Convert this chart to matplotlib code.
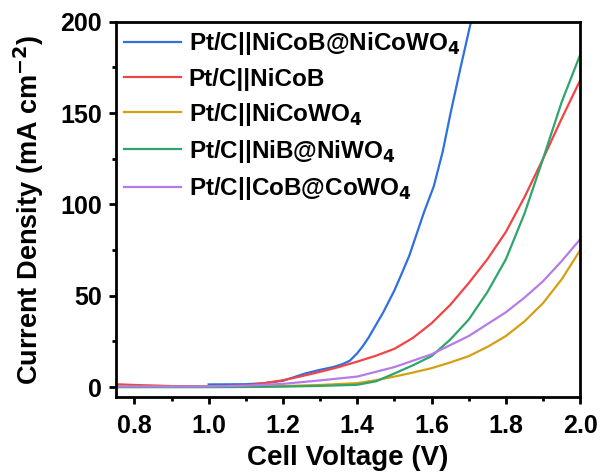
import matplotlib
matplotlib.use("Agg")
import matplotlib.pyplot as plt
from matplotlib.ticker import MultipleLocator

plt.rcParams['font.family'] = ['Liberation Sans', 'DejaVu Sans']
plt.rcParams['font.weight'] = 'bold'
plt.rcParams['mathtext.default'] = 'bf'

labels = ['Pt/C||NiCoB@NiCoWO$_4$', 'Pt/C||NiCoB', 'Pt/C||NiCoWO$_4$',
          'Pt/C||NiB@NiWO$_4$', 'Pt/C||CoB@CoWO$_4$']
colors = ['#2f6fe0', '#f24444', '#d4a012', '#2ea56c', '#b47ce6']

v_blue = [1.0, 1.1, 1.15, 1.2, 1.23, 1.26, 1.3, 1.335, 1.36, 1.38, 1.4, 1.415, 1.43, 1.45, 1.47, 1.5, 1.515, 1.54, 1.56, 1.58, 1.606, 1.63, 1.65, 1.678, 1.706]
j_blue = [1.5, 1.6, 2.2, 3.5, 5.5, 7.5, 9.5, 11, 12.6, 14.5, 18.6, 22.5, 27, 34, 41, 53, 60, 72, 84, 96, 110, 129, 149, 175, 200]

v_red = [0.75, 0.8, 0.9, 1.0, 1.1, 1.15, 1.2, 1.25, 1.3, 1.35, 1.4, 1.45, 1.5, 1.55, 1.6, 1.65, 1.7, 1.75, 1.8, 1.85, 1.9, 1.95, 2.0]
j_red = [1.6, 1.2, 0.6, 0.5, 0.9, 2.2, 3.8, 6.0, 8.4, 11.0, 14, 17.2, 21, 27, 35, 45, 57, 70, 85, 104, 125, 147, 168]

v_yel = [0.75, 0.9, 1.0, 1.1, 1.2, 1.3, 1.4, 1.45, 1.5, 1.55, 1.6, 1.65, 1.7, 1.75, 1.8, 1.85, 1.9, 1.95, 2.0]
j_yel = [0.3, 0.2, 0.2, 0.3, 0.6, 1.2, 2.2, 3.8, 5.8, 8.0, 10.4, 13.5, 17, 22, 28, 36, 46, 59, 75]

v_grn = [0.75, 0.9, 1.0, 1.1, 1.2, 1.3, 1.4, 1.45, 1.5, 1.55, 1.6, 1.65, 1.7, 1.75, 1.8, 1.85, 1.9, 1.95, 2.0]
j_grn = [0.0, 0.0, 0.0, 0.1, 0.3, 0.7, 1.3, 3.2, 7.5, 12, 17, 26, 37, 52, 70, 95, 125, 156, 182]

v_pur = [0.75, 0.9, 1.0, 1.1, 1.2, 1.3, 1.4, 1.5, 1.6, 1.7, 1.8, 1.85, 1.9, 1.95, 2.0]
j_pur = [0.4, 0.3, 0.4, 0.8, 1.8, 3.7, 5.8, 11, 18, 28, 41, 49, 58, 69, 81]

series = [(v_blue, j_blue), (v_red, j_red), (v_yel, j_yel), (v_grn, j_grn), (v_pur, j_pur)]

fig = plt.figure(figsize=(6.0, 4.74), dpi=100)
ax = fig.add_axes([0.193, 0.162, 0.774, 0.792])
for (x, y), c, lab in zip(series, colors, labels):
    ax.plot(x, y, color=c, lw=1.6, label=lab)

ax.set_xlim(0.75, 2.0)
ax.set_ylim(-5.5, 200)
ax.xaxis.set_major_locator(MultipleLocator(0.2))
ax.xaxis.set_minor_locator(MultipleLocator(0.1))
ax.yaxis.set_major_locator(MultipleLocator(50))
ax.yaxis.set_minor_locator(MultipleLocator(25))
ax.tick_params(which='major', direction='out', length=5, width=2, labelsize=18)
ax.tick_params(which='minor', direction='out', length=3, width=2)
ax.tick_params(axis='x', which='major', pad=7)
ax.tick_params(axis='y', which='major', pad=5)
for s in ax.spines.values():
    s.set_linewidth(2)
for t in ax.get_xticklabels() + ax.get_yticklabels():
    t.set_fontweight('bold')

ax.set_xlabel('Cell Voltage (V)', fontsize=20, fontweight='bold', labelpad=5)
ax.set_ylabel('Current Density (mA cm$^{\\mathbf{-2}}$)', fontsize=19.5, fontweight='bold', labelpad=10)

ax.legend(loc='upper left', frameon=False, handlelength=2.35,
          labelspacing=0.42, borderaxespad=0.15, handletextpad=0.3, borderpad=0.2,
          prop={'weight': 'bold', 'size': 17.5})

fig.savefig('out.png', dpi=100)
